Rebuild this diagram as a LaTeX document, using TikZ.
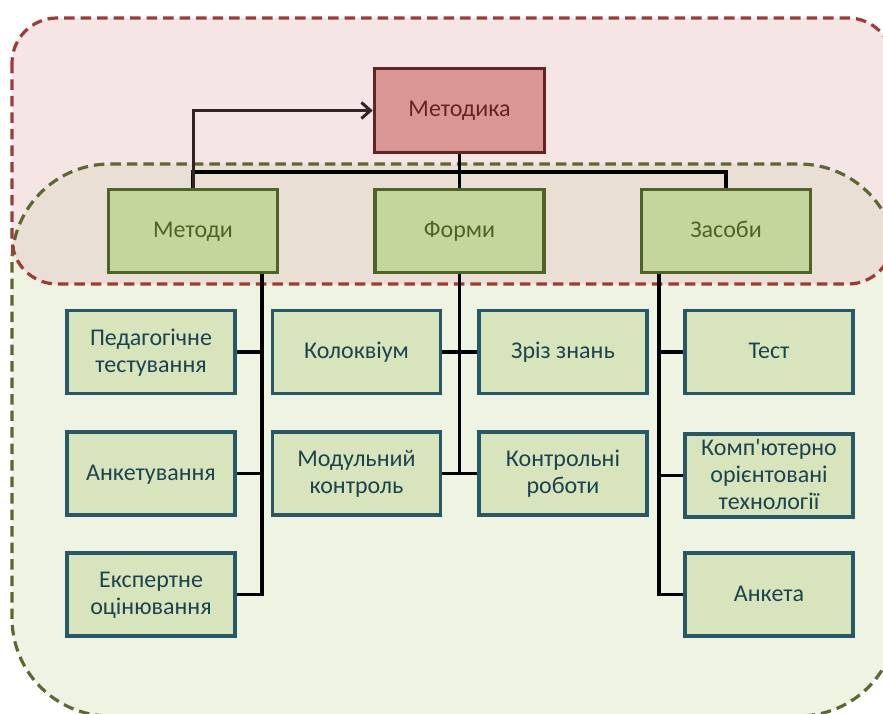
\documentclass[tikz,border=0pt]{standalone}
\usepackage{fontspec}
\setmainfont{Carlito}
% same family without TeX ligatures, for a straight apostrophe
\newfontfamily\plainapos{Carlito}
\usetikzlibrary{arrows.meta}

% line strut: keeps every text line at the same baseline
\newcommand\lnstrut{\rule[-7pt]{0pt}{27pt}}

\definecolor{zoneGreen}{RGB}{238,243,226}
\definecolor{zonePink}{RGB}{245,230,229}
\definecolor{zoneBeige}{RGB}{234,223,212}
\definecolor{edgeRed}{RGB}{160,58,54}
\definecolor{edgeOlive}{RGB}{92,104,48}
\definecolor{topFill}{RGB}{218,150,148}
\definecolor{topLine}{RGB}{99,37,35}
\definecolor{midFill}{RGB}{195,214,155}
\definecolor{midLine}{RGB}{79,98,40}
\definecolor{lowFill}{RGB}{216,228,188}
\definecolor{lowLine}{RGB}{38,88,104}
\definecolor{lowText}{RGB}{28,68,80}
\definecolor{arrowDark}{RGB}{50,36,36}

\tikzset{
  boxbase/.style={rectangle, line width=3.6pt, align=center, inner sep=0pt,
    font=\fontsize{24}{27}\selectfont},
  topbox/.style={boxbase, fill=topFill, draw=topLine, text=topLine,
    minimum width=170pt, minimum height=84pt},
  midbox/.style={boxbase, fill=midFill, draw=midLine, text=midLine,
    minimum width=169pt, minimum height=83pt},
  lowbox/.style={boxbase, fill=lowFill, draw=lowLine, text=lowText,
    minimum width=168pt, minimum height=83pt},
  conn/.style={line width=3.6pt, black},
  link/.style={line width=3pt, arrowDark,
    -{Straight Barb[length=9pt,width=16pt,line width=3pt]}},
  zoneedge/.style={line width=3.2pt, dash pattern=on 10.5pt off 6pt}
}

\begin{document}
\begin{tikzpicture}[x=1pt,y=-1pt]
  \useasboundingbox (0,0) rectangle (883,714);
  \clip (0,0) rectangle (883,714);

  % the two overlapping zones
  \fill[zoneGreen, rounded corners=98pt] (12,164) rectangle (897,716);
  \fill[zonePink, rounded corners=45pt] (12,18) rectangle (893,284);
  \begin{scope}
    \clip[rounded corners=45pt] (12,18) rectangle (893,284);
    \fill[zoneBeige, rounded corners=98pt] (12,164) rectangle (897,716);
  \end{scope}
  \draw[zoneedge, edgeOlive, rounded corners=98pt] (12,164) rectangle (897,716);
  \draw[zoneedge, edgeRed, rounded corners=45pt] (12,18) rectangle (893,284);

  % top level
  \node[topbox] (met) at (459.5,110.5) {\lnstrut Методика};

  % second level
  \node[midbox] (m1) at (193,231) {\lnstrut Методи};
  \node[midbox] (m2) at (459.5,231) {\lnstrut Форми};
  \node[midbox] (m3) at (726,231) {\lnstrut Засоби};

  % methods
  \node[lowbox] (l1) at (151,352) {\lnstrut Педагогічне\\\lnstrut тестування};
  \node[lowbox] (l2) at (151,473.5) {\lnstrut Анкетування};
  \node[lowbox] (l3) at (151,594.5) {\lnstrut Експертне\\\lnstrut оцінювання};

  % forms
  \node[lowbox] (f1) at (356.5,352) {\lnstrut Колоквіум};
  \node[lowbox] (f2) at (356.5,473.5) {\lnstrut Модульний\\\lnstrut контроль};
  \node[lowbox] (g1) at (563,352) {\lnstrut Зріз знань};
  \node[lowbox] (g2) at (563,473.5) {\lnstrut Контрольні\\\lnstrut роботи};

  % means
  \node[lowbox] (r1) at (769,352) {\lnstrut Тест};
  \node[lowbox] (r2) at (769,475.5)
    {\lnstrut Комп{\plainapos'}ютерно\\\lnstrut орієнтовані\\\lnstrut технології};
  \node[lowbox] (r3) at (769,594.5) {\lnstrut Анкета};

  % tree connectors
  \coordinate (bus) at (459.5,172);
  \draw[conn] (m1.north) |- (bus) -| (m3.north);
  \draw[conn] (met.south) -- (m2.north);
  \draw[link] (m1.north) |- (met.west);

  \coordinate (mtrunk) at (262,274);
  \draw[conn] (mtrunk) |- (l3.east);
  \draw[conn] (l1.east) -- (l1.east -| mtrunk);
  \draw[conn] (l2.east) -- (l2.east -| mtrunk);

  \draw[conn] (m2.south) -- (m2.south |- f2.east);
  \draw[conn] (f1.east) -- (g1.west);
  \draw[conn] (f2.east) -- (g2.west);

  \coordinate (ztrunk) at (659,274);
  \draw[conn] (ztrunk) |- (r3.west);
  \draw[conn] (r1.west) -- (r1.west -| ztrunk);
  \draw[conn] (r2.west) -- (r2.west -| ztrunk);
\end{tikzpicture}
\end{document}
